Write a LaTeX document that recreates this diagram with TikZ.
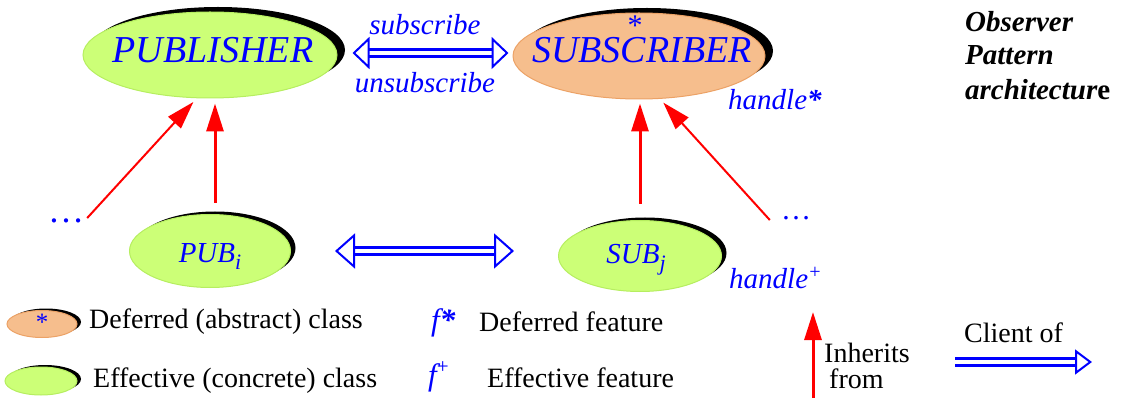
\documentclass[tikz,border=0pt]{standalone}
\usepackage{fontspec}
\setmainfont{Liberation Serif}
\usetikzlibrary{positioning,shapes.geometric,shadows,arrows.meta}

\definecolor{effgreen}{RGB}{204,255,119}
\definecolor{effedge}{RGB}{182,238,96}
\definecolor{defcolour}{RGB}{246,190,141}
\definecolor{defedge}{RGB}{236,162,102}

\newcommand{\fsz}[1]{\fontsize{#1}{#1}\selectfont}

\begin{document}
\begin{tikzpicture}[x=1pt,y=-1pt,
  bigshadow/.style={drop shadow={shadow xshift=8pt,shadow yshift=5pt,fill=black,opacity=1}},
  smallshadow/.style={drop shadow={shadow xshift=5pt,shadow yshift=3pt,fill=black,opacity=1}},
  tinyshadow/.style={drop shadow={shadow xshift=4pt,shadow yshift=2pt,fill=black,opacity=1}},
  effective/.style={ellipse,fill=effgreen,draw=effedge,line width=1pt,inner sep=0pt},
  deferred/.style={ellipse,fill=defcolour,draw=defedge,line width=1pt,inner sep=0pt},
  classname/.style={text=blue,inner sep=0pt,font={\fsz{38}\itshape}},
  smallname/.style={text=blue,inner sep=0pt,font={\fsz{29}\itshape}},
  feature/.style={text=blue,inner sep=0pt,font={\fsz{29}\itshape}},
  legendtext/.style={inner sep=0pt,font={\fsz{28}}},
  title/.style={inner sep=0pt,font={\fsz{29}\bfseries\itshape}},
  inherit/.style={red,line width=3pt,-{Triangle[length=28pt,width=17pt]}},
  client/.style={blue,line width=3pt,double=white,double distance=4pt},
  tophead/.tip={Triangle[open,length=17pt,width=32pt,line width=2pt]},
  midhead/.tip={Triangle[open,length=20pt,width=35pt,line width=2pt]},
  leghead/.tip={Triangle[open,length=17pt,width=25pt,line width=2pt]}
]
\useasboundingbox (0,0) rectangle (1122,398);

% classes
\node[effective,bigshadow,minimum width=254pt,minimum height=86pt] (pub) at (210,55) {};
\node[classname,anchor=base] (pubname) at ([xshift=3pt,yshift=-8pt]pub.center) {PUBLISHER};
\node[deferred,bigshadow,minimum width=252pt,minimum height=86pt] (sub) at (639,56) {};
\node[classname,anchor=base] (subname) at ([xshift=3pt,yshift=-7pt]sub.center) {SUBSCRIBER};
\node[text=blue,inner sep=0pt,font={\fsz{30}},anchor=base] (substar) at (635,36) {*};
\node[effective,smallshadow,minimum width=161pt,minimum height=73pt] (pubi) at (210,251) {};
\node[smallname,anchor=base] (pubiname) at ([yshift=-11pt]pubi.center) {PUB\raisebox{-7pt}{\fsz{22}i}};
\node[effective,smallshadow,minimum width=163pt,minimum height=71pt] (subj) at (640,256) {};
\node[smallname,anchor=base] (subjname) at ([xshift=-4pt,yshift=-7pt]subj.center) {SUB\raisebox{-7pt}{\fsz{22}j}};

\node[text=blue,inner sep=0pt,font={\fsz{36}},anchor=base] (ldots) at (66,223) {…};
\node[text=blue,inner sep=0pt,font={\fsz{30}},anchor=base] (rdots) at (796,220) {…};

% features
\node[feature,anchor=base] (subscr) at (425,35) {subscribe};
\node[feature,anchor=base] (unsubscr) at (425,93) {unsubscribe};
\node[feature,anchor=base west] (hstar) at (728,110) {handle\textbf{*}};
\node[feature,anchor=base west] (hplus) at (729,288) {handle\raisebox{10pt}{\fsz{20}+}};

% title
\node[title,anchor=base west] (obs) at (965,32) {Observer};
\node[title,anchor=base west] (pat) at ([yshift=-33pt]obs.base west) {Pattern};
\node[title,anchor=base west] (arch) at ([yshift=-35pt]pat.base west) {architectur{\upshape e}};

% client links
\draw[client,tophead-tophead,shorten <=15pt,shorten >=4pt]
  ([yshift=2pt]pub.east) -- ([yshift=2pt]pub.east -| sub.west);
\draw[client,midhead-midhead,shorten <=44pt,shorten >=44pt]
  (pubi.east) -- (pubi.east -| subj.west);

% inheritance
\draw[inherit,shorten <=11pt,shorten >=5pt] ([xshift=5pt]pubi.north) -- ([xshift=5pt]pub.south);
\draw[inherit,line width=2pt,shorten >=5pt] ([xshift=3pt,yshift=5pt]ldots.base east) -- (pub.-107);
\draw[inherit,shorten <=16pt,shorten >=4pt] (subj.north) -- (subj.north |- sub.south);
\draw[inherit,line width=2pt,shorten >=5pt] ([xshift=-11pt]rdots.base west) -- (sub.-64);

% legend
\node[deferred,tinyshadow,minimum width=70pt,minimum height=27pt] (legdef) at (42,324) {};
\node[text=blue,inner sep=0pt,font={\fsz{25}},anchor=base] (legstar) at (42,330) {*};
\node[legendtext,anchor=base west] (legdeftext) at (89,328) {Deferred (abstract) class};
\node[effective,tinyshadow,minimum width=72pt,minimum height=28pt] (legeff) at (41,381) {};
\node[legendtext,anchor=base west] (legefftext) at (93,387) {Effective (concrete) class};

\node[feature,anchor=base west,font={\fsz{31}\itshape}] (fdef) at (431,330) {f\textbf{*}};
\node[legendtext,anchor=base west] (fdeftext) at (479,331) {Deferred feature};
\node[feature,anchor=base west,font={\fsz{31}\itshape}] (feff) at (428,385) {f\raisebox{12pt}{\fsz{21}\upshape+}};
\node[legendtext,anchor=base west] (fefftext) at (487,387) {Effective feature};

\coordinate (inhfoot) at (813,398);
\coordinate (inhhead) at (813,312);
\draw[inherit,line width=3pt] (inhfoot) -- (inhhead);
\node[legendtext,anchor=base west] (inhtext) at (824,362) {Inherits};
\node[legendtext,anchor=base west] (fromtext) at (829,388) {from};

\coordinate (clfoot) at (955,362);
\coordinate (clhead) at (1092,362);
\draw[client,-leghead] (clfoot) -- (clhead);
\node[legendtext,anchor=base west] (cltext) at (964,342) {Client of};
\end{tikzpicture}
\end{document}
